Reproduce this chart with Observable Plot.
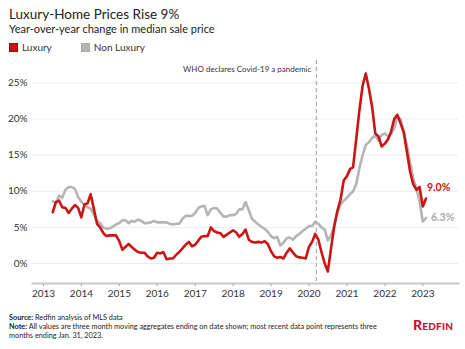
<!DOCTYPE html>
<html><head><meta charset="utf-8">
<script src="https://cdn.jsdelivr.net/npm/d3@7"></script>
<script src="https://cdn.jsdelivr.net/npm/@observablehq/plot@0.6"></script>
<style>
body{margin:0;background:#fff;font-family:Lato,"Noto Sans",sans-serif;color:#222;}
#wrap{position:relative;width:465px;height:349px;overflow:hidden;background:#fff}
.abs{position:absolute;white-space:nowrap}
#title{left:9px;top:8px;font-size:13.5px;line-height:13px;color:#222}
#subtitle{left:9px;top:23px;font-size:11px;line-height:11px;color:#222}
#legend{left:9px;top:42px;font-size:10px;line-height:10px;color:#333}
.sw{display:inline-block;width:7px;height:7px;vertical-align:-1px;margin-right:4px;border:1px solid}
#chart{left:0;top:55px}
#foot{left:9px;top:313px;font-size:7.3px;line-height:9px;color:#222}
#logo{left:413px;top:318px;font-size:14px;line-height:14px;font-weight:900;font-variant:small-caps;color:#c8102e;letter-spacing:0.2px}
</style></head><body>
<div id="wrap">
  <div id="title" class="abs">Luxury-Home Prices Rise 9%</div>
  <div id="subtitle" class="abs">Year-over-year change in median sale price</div>
  <div id="legend" class="abs"></div>
  <div id="chart" class="abs"></div>
  <div id="foot" class="abs"><b>Source:</b> Redfin analysis of MLS data<br><b>Note:</b> All values are three month moving aggregates ending on date shown; most recent data point represents three<br>months ending Jan. 31, 2023.</div>
  <div id="logo" class="abs">Redfin</div>
</div>
<script>
const seriesNames = ["Luxury", "Non Luxury"];
const seriesColors = ["#cc1414", "#b5b5b5"];
const years = [2013, 2014, 2015, 2016, 2017, 2018, 2019, 2020, 2021, 2022, 2023];
const yTicks = [0, 5, 10, 15, 20, 25];
const months = [
  "2013-03","2013-04","2013-05","2013-06","2013-07","2013-08","2013-09","2013-10","2013-11","2013-12",
  "2014-01","2014-02","2014-03","2014-04","2014-05","2014-06","2014-07","2014-08","2014-09","2014-10","2014-11","2014-12",
  "2015-01","2015-02","2015-03","2015-04","2015-05","2015-06","2015-07","2015-08","2015-09","2015-10","2015-11","2015-12",
  "2016-01","2016-02","2016-03","2016-04","2016-05","2016-06","2016-07","2016-08","2016-09","2016-10","2016-11","2016-12",
  "2017-01","2017-02","2017-03","2017-04","2017-05","2017-06","2017-07","2017-08","2017-09","2017-10","2017-11","2017-12",
  "2018-01","2018-02","2018-03","2018-04","2018-05","2018-06","2018-07","2018-08","2018-09","2018-10","2018-11","2018-12",
  "2019-01","2019-02","2019-03","2019-04","2019-05","2019-06","2019-07","2019-08","2019-09","2019-10","2019-11","2019-12",
  "2020-01","2020-02","2020-03","2020-04","2020-05","2020-06","2020-07","2020-08","2020-09","2020-10","2020-11","2020-12",
  "2021-01","2021-02","2021-03","2021-04","2021-05","2021-06","2021-07","2021-08","2021-09","2021-10","2021-11","2021-12",
  "2022-01","2022-02","2022-03","2022-04","2022-05","2022-06","2022-07","2022-08","2022-09","2022-10","2022-11","2022-12",
  "2023-01"
];
const luxury = [
  7.1, 8.5, 8.7, 7.8, 7.7, 7.0, 7.6, 8.1, 7.7, 6.4,
  8.2, 8.3, 9.6, 7.6, 5.5, 5.0, 4.2, 3.8, 3.9, 3.9, 3.9, 3.1,
  1.9, 2.3, 2.7, 2.3, 1.9, 1.6, 1.5, 1.5, 1.0, 0.7, 0.8, 1.5,
  1.4, 1.6, 0.6, 0.7, 0.7, 1.2, 1.6, 2.1, 2.6, 3.0, 2.4, 2.6,
  3.2, 3.7, 3.8, 3.8, 5.0, 4.5, 4.3, 4.2, 3.7, 4.0, 4.3, 4.6,
  4.3, 3.7, 4.1, 4.7, 3.3, 3.0, 2.9, 3.0, 2.9, 3.1, 2.7, 1.7,
  1.0, 0.8, 0.9, 0.7, 1.5, 2.1, 1.5, 1.0, 0.85, 0.8, 0.7, 2.3,
  3.0, 4.1, 3.3, 1.6, 0.0, -1.1, 2.1, 5.2, 7.3, 8.9, 11.5, 12.1,
  13.1, 13.3, 17.3, 21.2, 24.6, 26.3, 24.2, 21.6, 18.0, 17.6, 16.2, 16.6,
  17.2, 18.2, 20.0, 20.6, 19.4, 18.2, 15.5, 12.7, 11.0, 10.2, 10.6, 7.9,
  9.0
];
const nonLuxury = [
  8.6, 8.4, 9.4, 9.1, 10.2, 10.6, 10.6, 10.3, 9.2, 8.6,
  8.1, 7.8, 7.6, 6.8, 5.9, 5.6, 5.0, 4.8, 4.9, 5.1, 5.4, 5.6,
  6.0, 6.0, 5.6, 5.9, 5.8, 6.1, 5.9, 5.6, 5.6, 5.7, 5.9, 5.7,
  5.7, 5.7, 5.7, 5.5, 5.4, 5.5, 5.5, 6.2, 6.6, 6.6, 6.6, 7.0,
  7.7, 7.9, 8.0, 6.7, 7.5, 7.7, 7.6, 7.0, 6.5, 6.5, 6.7, 6.7,
  6.9, 7.5, 7.5, 8.5, 7.4, 6.2, 5.8, 5.4, 5.1, 4.8, 4.4, 3.8,
  3.5, 3.7, 2.5, 2.9, 3.5, 3.6, 3.3, 3.8, 4.1, 4.5, 4.8, 5.2,
  5.2, 5.8, 5.5, 5.0, 4.7, 3.2, 3.9, 5.2, 7.0, 8.2, 8.7, 9.1,
  9.6, 10.0, 11.0, 13.2, 15.0, 16.4, 16.8, 17.4, 17.7, 17.0, 17.8, 18.0,
  17.6, 17.9, 18.7, 20.3, 20.0, 18.4, 16.3, 14.0, 11.8, 10.4, 8.6, 5.8,
  6.3
];
const eventDates = ["2020-03-11"];
const eventLabels = ["WHO declares Covid-19 a pandemic"];

// legend
document.getElementById("legend").innerHTML = seriesNames.map((n, i) =>
  `<span style="margin-right:${i === 0 ? 29 : 0}px"><span class="sw" style="background:${seriesColors[i]};border-color:${i === 0 ? "#a00" : "#aaa"}"></span>${n}</span>`
).join("");

const monthEnd = s => { const [y, m] = s.split("-").map(Number); return new Date(Date.UTC(y, m, 0)); };
const data = months.map((m, i) => ({date: monthEnd(m), lux: luxury[i], non: nonLuxury[i]}));
const last = [data[data.length - 1]];
const events = eventDates.map((d, i) => ({date: new Date(d + "T00:00:00Z"), label: eventLabels[i]}));
const yearDates = years.map(y => new Date(Date.UTC(y, 0, 1)));

const chart = Plot.plot({
  width: 465, height: 250,
  marginTop: 5, marginBottom: 22, marginLeft: 32, marginRight: 7,
  style: {fontFamily: "Lato, sans-serif", fontSize: "10px", color: "#333", background: "transparent", overflow: "visible"},
  x: {type: "utc", domain: [new Date("2012-09-17"), new Date("2023-12-10")]},
  y: {domain: [-2.76, 28.1]},
  marks: [
    Plot.gridY(yTicks, {stroke: "#ececec", strokeOpacity: 1, strokeWidth: 1}),
    Plot.axisY(yTicks, {tickSize: 0, tickPadding: 5, tickFormat: d => d + "%", label: null, fill: "#333"}),
    Plot.axisX(yearDates, {tickFormat: "%Y", tickSize: 3, tickPadding: 3, label: null, stroke: "#999", fill: "#333"}),
    Plot.frame({anchor: "bottom", stroke: "#c8c8c8", strokeWidth: 2}),
    Plot.ruleX(events, {x: "date", stroke: "#999", strokeWidth: 1, strokeDasharray: "4,3"}),
    Plot.text(events, {x: "date", text: "label", frameAnchor: "top", textAnchor: "end", dx: -5, dy: 6, fontSize: 8, fill: "#333"}),
    Plot.lineY(data, {x: "date", y: "non", stroke: seriesColors[1], strokeWidth: 2.6, curve: "linear"}),
    Plot.lineY(data, {x: "date", y: "lux", stroke: seriesColors[0], strokeWidth: 2.6, curve: "linear"}),
    Plot.text(last, {x: "date", y: "lux", text: d => d.lux.toFixed(1) + "%", fill: seriesColors[0], fontWeight: "bold", fontSize: 10.5, textAnchor: "start", dx: 1, dy: -11}),
    Plot.text(last, {x: "date", y: "non", text: d => d.non.toFixed(1) + "%", fill: "#aaa", fontWeight: "bold", fontSize: 10.5, textAnchor: "start", dx: 5, dy: 0})
  ]
});
document.getElementById("chart").appendChild(chart);
</script>
</body></html>
